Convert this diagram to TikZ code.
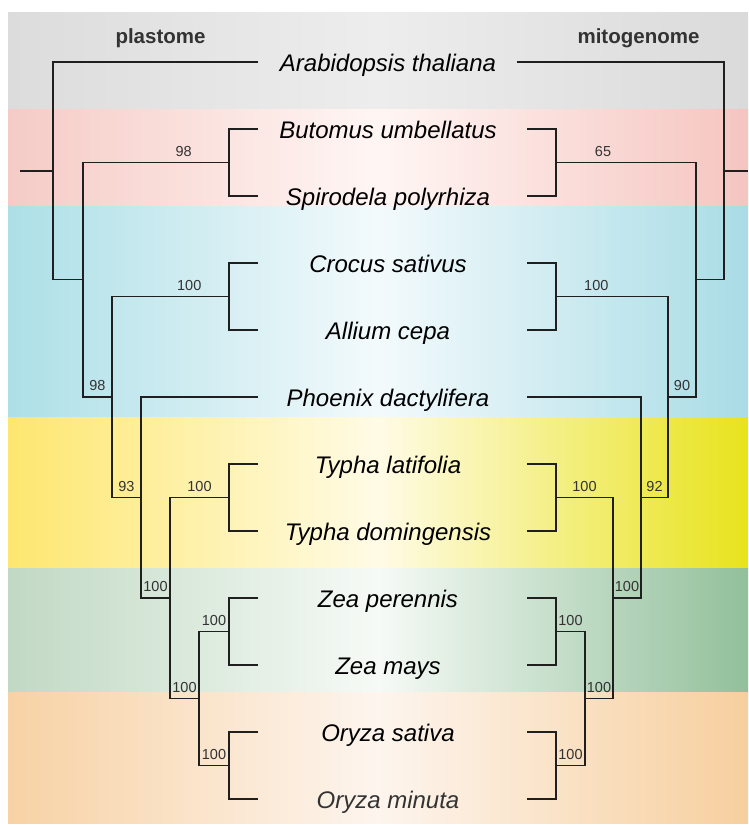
\documentclass[tikz,border=0pt]{standalone}
\usepackage{fontspec}
\setmainfont{Liberation Sans}
\usepackage{xcolor}
\usepackage{tikz}

\definecolor{grayL}{HTML}{DCDCDC}
\definecolor{grayM}{HTML}{EDEDED}
\definecolor{grayR}{HTML}{DADADA}
\definecolor{pinkL}{HTML}{F5CBC6}
\definecolor{pinkM}{HTML}{FFF6F4}
\definecolor{pinkR}{HTML}{F5C5C0}
\definecolor{blueL}{HTML}{ADDFE7}
\definecolor{blueM}{HTML}{F3FAFC}
\definecolor{blueR}{HTML}{A9DCE6}
\definecolor{yellowL}{HTML}{FDE76F}
\definecolor{yellowM}{HTML}{FFFBE6}
\definecolor{yellowR}{HTML}{E8E31C}
\definecolor{greenL}{HTML}{C1D9C4}
\definecolor{greenM}{HTML}{F6FAF6}
\definecolor{greenR}{HTML}{92C09B}
\definecolor{orangeL}{HTML}{F7D2A5}
\definecolor{orangeM}{HTML}{FDF5EE}
\definecolor{orangeR}{HTML}{F7CF9E}

\tikzset{
  taxon/.style={font=\fontsize{24}{28}\selectfont\itshape, anchor=base, inner sep=0pt},
  header/.style={font=\fontsize{20.5}{24}\selectfont\bfseries, text=black!80, anchor=base},
  support/.style={font=\fontsize{14.5}{16}\selectfont, text=black!80, above=3.5pt, inner sep=2pt},
  branch/.style={line width=1.2pt, black!88},
}

\begin{document}
\begin{tikzpicture}[x=1pt, y=-1pt]
\useasboundingbox (0,0) rectangle (748,825);
\shade[left color=grayL, right color=grayR, middle color=grayM] (8,12) rectangle (748,109);
\shade[left color=pinkL, right color=pinkR, middle color=pinkM] (8,109) rectangle (748,206);
\shade[left color=blueL, right color=blueR, middle color=blueM] (8,206) rectangle (748,417);
\shade[left color=yellowL, right color=yellowR, middle color=yellowM] (8,417) rectangle (748,568);
\shade[left color=greenL, right color=greenR, middle color=greenM] (8,568) rectangle (748,692);
\shade[left color=orangeL, right color=orangeR, middle color=orangeM] (8,692) rectangle (748,823);

\node[header] (plast) at (160.5,43) {plastome};
\node[header] (mito) at (638.5,43) {mitogenome};

\node[taxon] (arab) at (388,71) {Arabidopsis thaliana};
\node[taxon] (buto) at (388,138) {Butomus umbellatus};
\node[taxon] (spir) at (388,205) {Spirodela polyrhiza};
\node[taxon] (croc) at (388,272) {Crocus sativus};
\node[taxon] (alli) at (388,339) {Allium cepa};
\node[taxon] (phoe) at (388,406) {Phoenix dactylifera};
\node[taxon] (tyla) at (388,473) {Typha latifolia};
\node[taxon] (tydo) at (388,540) {Typha domingensis};
\node[taxon] (zepe) at (388,607) {Zea perennis};
\node[taxon] (zema) at (388,674) {Zea mays};
\node[taxon] (orsa) at (388,741) {Oryza sativa};
\node[taxon, text=black!80] (ormi) at (388,808) {Oryza minuta};

% plastome tree
\coordinate (lArab) at (258,62);
\coordinate (lButo) at (258,129);
\coordinate (lSpir) at (258,196);
\coordinate (lCroc) at (258,263);
\coordinate (lAlli) at (258,330);
\coordinate (lPhoe) at (258,397);
\coordinate (lTyla) at (258,464);
\coordinate (lTydo) at (258,531);
\coordinate (lZepe) at (258,598);
\coordinate (lZema) at (258,665);
\coordinate (lOrsa) at (258,732);
\coordinate (lOrmi) at (258,799);
\coordinate (lBS) at (229,162.5);
\coordinate (lCA) at (229,296.5);
\coordinate (lTy) at (229,497.5);
\coordinate (lZe) at (229,631.5);
\coordinate (lOr) at (229,765.5);
\coordinate (lF) at (199,698.5);
\coordinate (lE) at (170,598);
\coordinate (lD) at (141,497.5);
\coordinate (lC) at (112,397);
\coordinate (lB) at (83,279.75);
\coordinate (lA) at (53,170.9);
\coordinate (lRoot) at (20,170.9);

\draw[branch] (lButo) -| (lBS) |- (lSpir);
\draw[branch] (lCroc) -| (lCA) |- (lAlli);
\draw[branch] (lTyla) -| (lTy) |- (lTydo);
\draw[branch] (lZepe) -| (lZe) |- (lZema);
\draw[branch] (lOrsa) -| (lOr) |- (lOrmi);
\draw[branch] (lZe) -| (lF) node[support, pos=.25] (slZe) {100}
  |- (lOr) node[support, pos=.75] (slOr) {100};
\draw[branch] (lTy) -| (lE) node[support, pos=.25] (slTy) {100}
  |- (lF) node[support, pos=.75] (slF) {100};
\draw[branch] (lPhoe) -| (lD) |- (lE) node[support, pos=.75] (slE) {100};
\draw[branch] (lCA) -| (lC) node[support, pos=.17] (slCA) {100}
  |- (lD) node[support, pos=.75] (slD) {93};
\draw[branch] (lBS) -| (lB) node[support, pos=.155] (slBS) {98}
  |- (lC) node[support, pos=.75] (slC) {98};
\draw[branch] (lArab) -| (lA) |- (lB);
\draw[branch] (lRoot) -- (lA);

% mitogenome tree
\coordinate (rArab) at (517,62);
\coordinate (rButo) at (527,129);
\coordinate (rSpir) at (527,196);
\coordinate (rCroc) at (527,263);
\coordinate (rAlli) at (527,330);
\coordinate (rPhoe) at (527,397);
\coordinate (rTyla) at (527,464);
\coordinate (rTydo) at (527,531);
\coordinate (rZepe) at (527,598);
\coordinate (rZema) at (527,665);
\coordinate (rOrsa) at (527,732);
\coordinate (rOrmi) at (527,799);
\coordinate (rBS) at (556,162.5);
\coordinate (rCA) at (556,296.5);
\coordinate (rTy) at (556,497.5);
\coordinate (rZe) at (556,631.5);
\coordinate (rOr) at (556,765.5);
\coordinate (rF) at (585,698.5);
\coordinate (rE) at (613,598);
\coordinate (rD) at (641,497.5);
\coordinate (rC) at (668,397);
\coordinate (rB) at (696,279.75);
\coordinate (rA) at (724,170.9);
\coordinate (rRoot) at (748,170.9);

\draw[branch] (rButo) -| (rBS) |- (rSpir);
\draw[branch] (rCroc) -| (rCA) |- (rAlli);
\draw[branch] (rTyla) -| (rTy) |- (rTydo);
\draw[branch] (rZepe) -| (rZe) |- (rZema);
\draw[branch] (rOrsa) -| (rOr) |- (rOrmi);
\draw[branch] (rZe) -| (rF) node[support, pos=.25] (srZe) {100}
  |- (rOr) node[support, pos=.75] (srOr) {100};
\draw[branch] (rTy) -| (rE) node[support, pos=.25] (srTy) {100}
  |- (rF) node[support, pos=.75] (srF) {100};
\draw[branch] (rPhoe) -| (rD) |- (rE) node[support, pos=.75] (srE) {100};
\draw[branch] (rCA) -| (rC) node[support, pos=.18] (srCA) {100}
  |- (rD) node[support, pos=.75] (srD) {92};
\draw[branch] (rBS) -| (rB) node[support, pos=.168] (srBS) {65}
  |- (rC) node[support, pos=.75] (srC) {90};
\draw[branch] (rArab) -| (rA) |- (rB);
\draw[branch] (rRoot) -- (rA);
\end{tikzpicture}
\end{document}
